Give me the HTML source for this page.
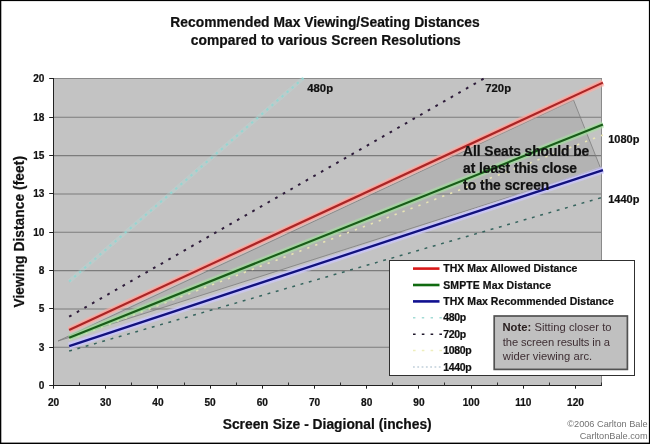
<!DOCTYPE html>
<html><head><meta charset="utf-8"><title>Recommended Max Viewing/Seating Distances</title>
<style>
html,body{margin:0;padding:0;background:#fff;}
body{width:650px;height:444px;overflow:hidden;font-family:"Liberation Sans",sans-serif;}
svg{display:block;position:absolute;left:0;top:0;filter:blur(0.35px);}
svg text{font-family:"Liberation Sans",sans-serif;}
.b{font-weight:bold;stroke:#111;stroke-width:0.22px;}
</style></head><body>
<svg width="650" height="444" viewBox="0 0 650 444">
<rect x="0" y="0" width="650" height="444" fill="#ffffff"/>

<rect x="53" y="78" width="549" height="307.5" fill="#c3c3c3"/>
<line x1="53" y1="347.31" x2="602" y2="347.31" stroke="#7c7c7c" stroke-width="1.1"/>
<line x1="53" y1="308.97" x2="602" y2="308.97" stroke="#7c7c7c" stroke-width="1.1"/>
<line x1="53" y1="270.64" x2="602" y2="270.64" stroke="#7c7c7c" stroke-width="1.1"/>
<line x1="53" y1="232.30" x2="602" y2="232.30" stroke="#7c7c7c" stroke-width="1.1"/>
<line x1="53" y1="193.96" x2="602" y2="193.96" stroke="#7c7c7c" stroke-width="1.1"/>
<line x1="53" y1="155.62" x2="602" y2="155.62" stroke="#7c7c7c" stroke-width="1.1"/>
<line x1="53" y1="117.29" x2="602" y2="117.29" stroke="#7c7c7c" stroke-width="1.1"/>
<rect x="53.5" y="78.5" width="548" height="307" fill="none" stroke="#8a8a8a" stroke-width="1"/>
<polygon points="58,341 573.5,100 600.5,168" fill="#000" fill-opacity="0.078" stroke="#7a7a7a" stroke-width="0.9" stroke-opacity="0.85" stroke-linejoin="miter"/>
<line x1="69.16" y1="281.43" x2="303.46" y2="78.03" stroke="#b2e2de" stroke-width="4.2" stroke-opacity="0.28"/>
<line x1="69.16" y1="281.43" x2="303.46" y2="78.03" stroke="#8cd8d4" stroke-width="2.0" stroke-dasharray="2.3 4.4" stroke-opacity="0.85"/>
<line x1="69.16" y1="316.70" x2="484.72" y2="78.03" stroke="#2e1c3a" stroke-width="2.0" stroke-dasharray="2.7 6.1"/>
<line x1="69.16" y1="339.62" x2="602.90" y2="135.00" stroke="#ece8b4" stroke-width="1.6" stroke-dasharray="2.3 6.2" stroke-opacity="0.95"/>
<line x1="69.16" y1="351.05" x2="602.90" y2="197.23" stroke="#36645e" stroke-width="1.5" stroke-dasharray="2.9 5.7"/>
<line x1="69.16" y1="330.00" x2="602.90" y2="82.60" stroke="#fcb0a6" stroke-width="7.4" stroke-opacity="0.55"/>
<line x1="69.16" y1="337.69" x2="602.90" y2="124.47" stroke="#aee4a8" stroke-width="6.8" stroke-opacity="0.5"/>
<line x1="69.16" y1="346.06" x2="602.90" y2="170.07" stroke="#cfcafc" stroke-width="7.4" stroke-opacity="0.6"/>
<line x1="69.16" y1="330.00" x2="602.90" y2="82.60" stroke="#ff9c96" stroke-width="4.6" stroke-opacity="0.85"/>
<line x1="69.16" y1="337.69" x2="602.90" y2="124.47" stroke="#9cdc98" stroke-width="4.2" stroke-opacity="0.7"/>
<line x1="69.16" y1="346.06" x2="602.90" y2="170.07" stroke="#c8c4ff" stroke-width="4.8" stroke-opacity="0.9"/>
<line x1="69.16" y1="330.00" x2="602.90" y2="82.60" stroke="#a82626" stroke-width="2.1"/>
<line x1="69.16" y1="337.69" x2="602.90" y2="124.47" stroke="#1a5c1a" stroke-width="2.1"/>
<line x1="69.16" y1="346.06" x2="602.90" y2="170.07" stroke="#12127c" stroke-width="2.3"/>
<line x1="53.5" y1="78" x2="53.5" y2="386" stroke="#202020" stroke-width="1"/>
<line x1="53" y1="385.5" x2="602" y2="385.5" stroke="#202020" stroke-width="1"/>
<line x1="49.2" y1="385.5" x2="53" y2="385.5" stroke="#202020" stroke-width="1"/>
<text class="b" x="44.4" y="388.7" font-size="10.1" text-anchor="end" fill="#111">0</text>
<line x1="49.2" y1="347.5" x2="53" y2="347.5" stroke="#202020" stroke-width="1"/>
<text class="b" x="44.4" y="350.7" font-size="10.1" text-anchor="end" fill="#111">3</text>
<line x1="49.2" y1="308.5" x2="53" y2="308.5" stroke="#202020" stroke-width="1"/>
<text class="b" x="44.4" y="311.7" font-size="10.1" text-anchor="end" fill="#111">5</text>
<line x1="49.2" y1="270.5" x2="53" y2="270.5" stroke="#202020" stroke-width="1"/>
<text class="b" x="44.4" y="273.7" font-size="10.1" text-anchor="end" fill="#111">8</text>
<line x1="49.2" y1="232.5" x2="53" y2="232.5" stroke="#202020" stroke-width="1"/>
<text class="b" x="44.4" y="235.7" font-size="10.1" text-anchor="end" fill="#111">10</text>
<line x1="49.2" y1="193.5" x2="53" y2="193.5" stroke="#202020" stroke-width="1"/>
<text class="b" x="44.4" y="196.7" font-size="10.1" text-anchor="end" fill="#111">13</text>
<line x1="49.2" y1="155.5" x2="53" y2="155.5" stroke="#202020" stroke-width="1"/>
<text class="b" x="44.4" y="158.7" font-size="10.1" text-anchor="end" fill="#111">15</text>
<line x1="49.2" y1="117.5" x2="53" y2="117.5" stroke="#202020" stroke-width="1"/>
<text class="b" x="44.4" y="120.7" font-size="10.1" text-anchor="end" fill="#111">18</text>
<line x1="49.2" y1="78.5" x2="53" y2="78.5" stroke="#202020" stroke-width="1"/>
<text class="b" x="44.4" y="81.7" font-size="10.1" text-anchor="end" fill="#111">20</text>
<line x1="53.5" y1="385" x2="53.5" y2="388.7" stroke="#202020" stroke-width="1"/>
<text class="b" x="53.5" y="405.8" font-size="10.1" text-anchor="middle" fill="#111">20</text>
<line x1="79.5" y1="382.5" x2="79.5" y2="385.5" stroke="#303030" stroke-width="1"/>
<line x1="105.5" y1="385" x2="105.5" y2="388.7" stroke="#202020" stroke-width="1"/>
<text class="b" x="105.7" y="405.8" font-size="10.1" text-anchor="middle" fill="#111">30</text>
<line x1="131.5" y1="382.5" x2="131.5" y2="385.5" stroke="#303030" stroke-width="1"/>
<line x1="157.5" y1="385" x2="157.5" y2="388.7" stroke="#202020" stroke-width="1"/>
<text class="b" x="157.9" y="405.8" font-size="10.1" text-anchor="middle" fill="#111">40</text>
<line x1="184.5" y1="382.5" x2="184.5" y2="385.5" stroke="#303030" stroke-width="1"/>
<line x1="210.5" y1="385" x2="210.5" y2="388.7" stroke="#202020" stroke-width="1"/>
<text class="b" x="210.1" y="405.8" font-size="10.1" text-anchor="middle" fill="#111">50</text>
<line x1="236.5" y1="382.5" x2="236.5" y2="385.5" stroke="#303030" stroke-width="1"/>
<line x1="262.5" y1="385" x2="262.5" y2="388.7" stroke="#202020" stroke-width="1"/>
<text class="b" x="262.3" y="405.8" font-size="10.1" text-anchor="middle" fill="#111">60</text>
<line x1="288.5" y1="382.5" x2="288.5" y2="385.5" stroke="#303030" stroke-width="1"/>
<line x1="314.5" y1="385" x2="314.5" y2="388.7" stroke="#202020" stroke-width="1"/>
<text class="b" x="314.5" y="405.8" font-size="10.1" text-anchor="middle" fill="#111">70</text>
<line x1="340.5" y1="382.5" x2="340.5" y2="385.5" stroke="#303030" stroke-width="1"/>
<line x1="366.5" y1="385" x2="366.5" y2="388.7" stroke="#202020" stroke-width="1"/>
<text class="b" x="366.7" y="405.8" font-size="10.1" text-anchor="middle" fill="#111">80</text>
<line x1="392.5" y1="382.5" x2="392.5" y2="385.5" stroke="#303030" stroke-width="1"/>
<line x1="418.5" y1="385" x2="418.5" y2="388.7" stroke="#202020" stroke-width="1"/>
<text class="b" x="418.9" y="405.8" font-size="10.1" text-anchor="middle" fill="#111">90</text>
<line x1="444.5" y1="382.5" x2="444.5" y2="385.5" stroke="#303030" stroke-width="1"/>
<line x1="471.5" y1="385" x2="471.5" y2="388.7" stroke="#202020" stroke-width="1"/>
<text class="b" x="471.1" y="405.8" font-size="10.1" text-anchor="middle" fill="#111">100</text>
<line x1="497.5" y1="382.5" x2="497.5" y2="385.5" stroke="#303030" stroke-width="1"/>
<line x1="523.5" y1="385" x2="523.5" y2="388.7" stroke="#202020" stroke-width="1"/>
<text class="b" x="523.3" y="405.8" font-size="10.1" text-anchor="middle" fill="#111">110</text>
<line x1="549.5" y1="382.5" x2="549.5" y2="385.5" stroke="#303030" stroke-width="1"/>
<line x1="575.5" y1="385" x2="575.5" y2="388.7" stroke="#202020" stroke-width="1"/>
<text class="b" x="575.5" y="405.8" font-size="10.1" text-anchor="middle" fill="#111">120</text>
<line x1="601.5" y1="382.5" x2="601.5" y2="385.5" stroke="#303030" stroke-width="1"/>
<text class="b" x="170.3" y="27.2" font-size="13.8" textLength="309.3" fill="#111">Recommended Max Viewing/Seating Distances</text>
<text class="b" x="190.7" y="44.6" font-size="13.8" textLength="270.1" fill="#111">compared to various Screen Resolutions</text>
<text class="b" x="222.7" y="428.6" font-size="13.8" textLength="209" fill="#111">Screen Size - Diagional (inches)</text>
<text class="b" transform="translate(24.2,307.5) rotate(-90)" font-size="13.8" textLength="151.5" fill="#111">Viewing Distance (feet)</text>
<text class="b" x="307.3" y="91.6" font-size="11.3" fill="#111">480p</text>
<text class="b" x="485.3" y="91.7" font-size="11.3" fill="#111">720p</text>
<text class="b" x="608.2" y="142.7" font-size="11" fill="#111">1080p</text>
<text class="b" x="608.2" y="202.7" font-size="11" fill="#111">1440p</text>
<text class="b" x="463.1" y="155.8" font-size="13.8" textLength="126.2" fill="#111">All Seats should be</text>
<text class="b" x="463.1" y="173.1" font-size="13.8" textLength="113.9" fill="#111">at least this close</text>
<text class="b" x="463.1" y="190.4" font-size="13.8" textLength="86.2" fill="#111">to the screen</text>
<rect x="389.5" y="260.5" width="245" height="115" fill="#ffffff" stroke="#303030" stroke-width="1"/>
<line x1="413" y1="268.6" x2="439.5" y2="268.6" stroke="#d81818" stroke-width="2.6"/>
<text class="b" x="443.2" y="272.2" font-size="10.5" textLength="134.2" fill="#111">THX Max Allowed Distance</text>
<line x1="413" y1="285.0" x2="439.5" y2="285.0" stroke="#106a10" stroke-width="2.6"/>
<text class="b" x="443.2" y="288.6" font-size="10.5" textLength="107.8" fill="#111">SMPTE Max Distance</text>
<line x1="413" y1="301.4" x2="439.5" y2="301.4" stroke="#101090" stroke-width="2.6"/>
<text class="b" x="443.2" y="305.1" font-size="10.5" textLength="170.6" fill="#111">THX Max Recommended Distance</text>
<line x1="413" y1="317.8" x2="442" y2="317.8" stroke="#a4dcd6" stroke-width="1.6" stroke-dasharray="2.4 6.4"/>
<text class="b" x="443.2" y="321.4" font-size="10.5" textLength="22.9" fill="#111">480p</text>
<line x1="413" y1="334.2" x2="442" y2="334.2" stroke="#20182c" stroke-width="1.4" stroke-dasharray="2.6 6.2"/>
<text class="b" x="443.2" y="337.9" font-size="10.5" textLength="22.9" fill="#111">720p</text>
<line x1="413" y1="350.6" x2="442" y2="350.6" stroke="#eeeebc" stroke-width="1.5" stroke-dasharray="2.6 6.2"/>
<text class="b" x="443.2" y="354.2" font-size="10.5" textLength="28.4" fill="#111">1080p</text>
<line x1="413" y1="367.0" x2="442" y2="367.0" stroke="#a2b8c8" stroke-width="1.2" stroke-dasharray="1.8 2.5"/>
<text class="b" x="443.2" y="370.6" font-size="10.5" textLength="28.4" fill="#111">1440p</text>
<rect x="494.2" y="316" width="133.2" height="53.4" fill="#c0c0c0" stroke="#525252" stroke-width="1.7"/>
<text x="502.4" y="331.2" font-size="11.2" textLength="109.2" fill="#3e2e33"><tspan font-weight="bold" fill="#2a2020">Note:</tspan> Sitting closer to</text>
<text x="502.8" y="346.1" font-size="11.2" textLength="107.3" fill="#3e2e33">the screen results in a</text>
<text x="502.8" y="360.4" font-size="11.2" textLength="89.4" fill="#3e2e33">wider viewing arc.</text>
<text x="647.6" y="427.2" font-size="9.2" text-anchor="end" fill="#727272">©2006 Carlton Bale</text>
<text x="647.6" y="439" font-size="9.2" text-anchor="end" fill="#727272">CarltonBale.com</text>
</svg>
<svg width="650" height="444" viewBox="0 0 650 444" style="filter:none">
<rect x="0" y="0" width="650" height="1.1" fill="#000"/>
<rect x="0" y="0" width="1.3" height="444" fill="#000"/>
<rect x="648.9" y="0" width="1.1" height="444" fill="#000"/>
<rect x="0" y="442.6" width="650" height="1.4" fill="#000"/>
</svg></body></html>
